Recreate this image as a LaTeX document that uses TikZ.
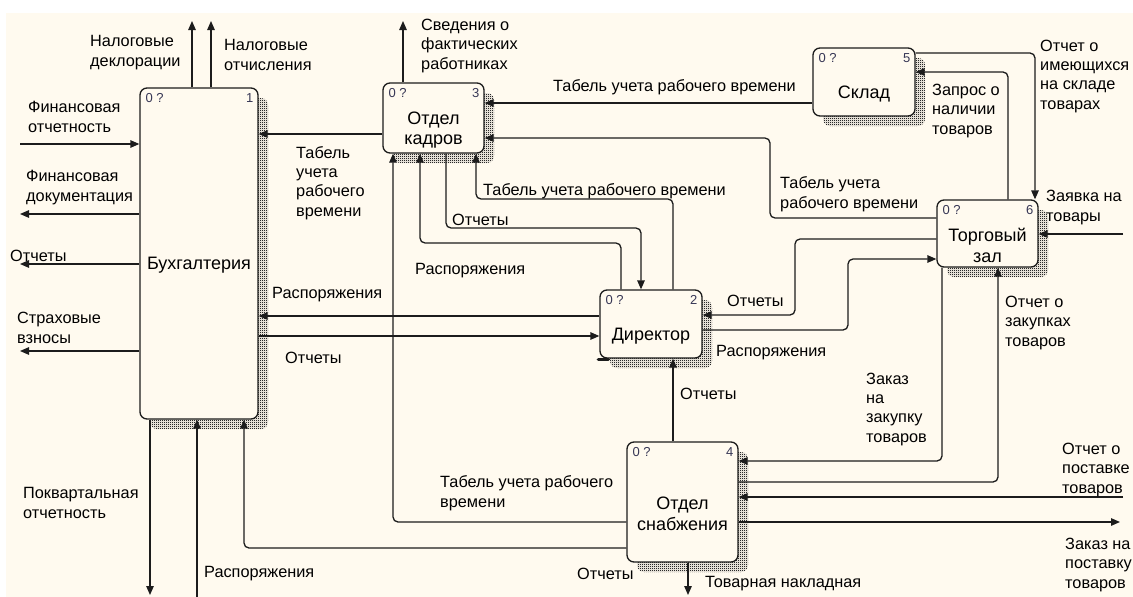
\documentclass[tikz,border=0pt]{standalone}
\usepackage{fontspec}
\setmainfont{Liberation Sans}
\usetikzlibrary{arrows.meta,patterns.meta,calc}

\definecolor{paper}{RGB}{255,250,239}
\definecolor{ink}{RGB}{28,28,28}
\definecolor{tagink}{RGB}{55,55,85}
\definecolor{hatch}{RGB}{40,40,40}

% fine chequer used for the box shadows
\pgfdeclarepattern{
  name=chequer,
  type=uncolored,
  bottom left={\pgfpoint{0pt}{0pt}},
  top right={\pgfpoint{2pt}{2pt}},
  tile size={\pgfpoint{2pt}{2pt}},
  code={%
    \pgfpathrectangle{\pgfpoint{0pt}{0pt}}{\pgfpoint{1.2pt}{1.2pt}}%
    \pgfpathrectangle{\pgfpoint{1pt}{1pt}}{\pgfpoint{1.2pt}{1.2pt}}%
    \pgfusepath{fill}%
  }
}

\tikzset{
  box/.style={draw=ink, line width=1.3pt, rounded corners=7pt, fill=paper, inner sep=0pt},
  boxshade/.style={pattern=chequer, pattern color=hatch, rounded corners=7pt},
  flow/.style={draw=ink, line width=1.3pt, rounded corners=5pt},
  arr/.style={flow, -{Triangle[length=9pt,width=7.5pt]}},
  % multi-line labels are placed by the baseline of their last line
  lbl/.style={anchor=base west, align=left, inner sep=0pt, font=\fontsize{16.3}{19.3}\selectfont},
  boxtitle/.style={align=center, inner sep=0pt, font=\fontsize{18}{20.5}\selectfont},
  boxtag/.style={inner sep=0pt, text=tagink, font=\fontsize{13}{14}\selectfont},
}

% IDEF0 activity box: name, left, top, right, bottom, title, number
\newcommand\idefbox[7]{%
  \pgfmathsetmacro\bxw{#4-#2}%
  \pgfmathsetmacro\bxh{#5-#3}%
  \fill[boxshade] (#2+10,#3+10) rectangle (#4+10,#5+10);
  \node[box, minimum width=\bxw pt, minimum height=\bxh pt] (#1) at ({(#2+#4)/2},{(#3+#5)/2}) {};
  \node[boxtitle] (#1-title) at ($(#1.center)+(0,12)$) {#6};
  \node[boxtag, anchor=west] (#1-tag) at ($(#1.north west)+(6,11)$) {0 ?};
  \node[boxtag, anchor=east] (#1-num) at ($(#1.north east)+(-5,11)$) {#7};
}

\begin{document}
\begin{tikzpicture}[x=1pt,y=-1pt]
\useasboundingbox (0,0) rectangle (1133,597);
\fill[white] (0,0) rectangle (1133,597);
\fill[paper] (6,13) rectangle (1133,597);

% activity boxes
\idefbox{buh}{140}{88}{258}{419}{Бухгалтерия}{1}
\idefbox{kadr}{383}{83}{484}{153}{Отдел\\кадров}{3}
\idefbox{dir}{600}{290}{702}{358}{Директор}{2}
\idefbox{snab}{627}{442}{738}{562}{Отдел\\снабжения}{4}
\idefbox{sklad}{813}{48}{915}{116}{Склад}{5}
\idefbox{torg}{937}{200}{1038}{267}{Торговый\\зал}{6}
\draw[ink, line width=3.5pt, line cap=round] ($(dir.south west)+(-1,1)$) -- ($(dir.south west)+(9,1)$);

% free ends of boundary arrows
\coordinate (taxdecl) at (192,21);
\coordinate (taxpay) at (211,21);
\coordinate (finrep) at (20,144);
\coordinate (findoc) at (20,214);
\coordinate (repout) at (20,264);
\coordinate (insur) at (20,351);
\coordinate (quart) at (150,595);
\coordinate (ordin) at (197,597);
\coordinate (staff) at (403,21);
\coordinate (goodsreq) at (1123,234);
\coordinate (supprep) at (1123,497);
\coordinate (supporder) at (1120,522);
\coordinate (invoice) at (688,595);

% boundary arrows
\draw[arr] (buh.north -| taxdecl) -- (taxdecl);
\draw[arr] (buh.north -| taxpay) -- (taxpay);
\draw[arr] (finrep) -- (buh.west |- finrep);
\draw[arr] (buh.west |- findoc) -- (findoc);
\draw[arr] (buh.west |- repout) -- (repout);
\draw[arr] (buh.west |- insur) -- (insur);
\draw[arr] (buh.south -| quart) -- (quart);
\draw[arr] (ordin) -- (buh.south -| ordin);
\draw[arr] (kadr.north -| staff) -- (staff);
\draw[arr] (goodsreq) -- (torg.east |- goodsreq);
\draw[arr] (supprep) -- (snab.east |- supprep);
\draw[arr] (snab.east |- supporder) -- (supporder);
\draw[arr] (snab.south -| invoice) -- (invoice);

% internal arrows
\draw[arr] (kadr.west |- 0,134) -- (buh.east |- 0,134);
\draw[arr] (dir.west |- 0,316) -- (buh.east |- 0,316);
\draw[arr] (buh.east |- 0,336) -- (dir.west |- 0,336);
\draw[arr] (sklad.west |- 0,103) -- (kadr.east |- 0,103);
\draw[arr] (torg.west |- 0,218) -- (770,218) -- (770,138) -- (kadr.east |- 0,138);
\draw[arr] (snab.west |- 0,522) -- (393,522) -- (kadr.south -| 393,0);
\draw[arr] (dir.north -| 621,0) -- (621,243) -- (420,243) -- (kadr.south -| 420,0);
\draw[arr] (kadr.south -| 446,0) -- (446,228) -- (641,228) -- (dir.north -| 641,0);
\draw[arr] (dir.north -| 673,0) -- (673,199) -- (476,199) -- (kadr.south -| 476,0);
\draw[arr] (torg.west |- 0,239) -- (795,239) -- (795,315) -- (dir.east |- 0,315);
\draw[arr] (dir.east |- 0,330) -- (848,330) -- (848,259) -- (torg.west |- 0,259);
\draw[arr] (snab.north -| 673,0) -- (dir.south -| 673,0);
\draw[arr] (sklad.east |- 0,53) -- (1035,53) -- (torg.north -| 1035,0);
\draw[arr] (torg.north -| 1008,0) -- (1008,72) -- (sklad.east |- 0,72);
\draw[arr] (torg.south -| 942,0) -- (942,461) -- (snab.east |- 0,461);
\draw[arr] (snab.east |- 0,482) -- (998,482) -- (torg.south -| 998,0);
\draw[arr] (snab.west |- 0,548) -- (244,548) -- (buh.south -| 244,0);

% arrow labels
\node[lbl] (l1) at (90,66) {Налоговые\\деклорации};
\node[lbl] (l2) at (224,70) {Налоговые\\отчисления};
\node[lbl] (l3) at (28,132) {Финансовая\\отчетность};
\node[lbl] (l4) at (26,201) {Финансовая\\документация};
\node[lbl] (l5) at (10,261) {Отчеты};
\node[lbl] (l6) at (17,343) {Страховые\\взносы};
\node[lbl] (l7) at (23,518) {Поквартальная\\отчетность};
\node[lbl] (l8) at (204,577) {Распоряжения};
\node[lbl] (l9) at (296,216) {Табель\\учета\\рабочего\\времени};
\node[lbl] (l10) at (272,298) {Распоряжения};
\node[lbl] (l11) at (285,363) {Отчеты};
\node[lbl] (l12) at (421,69) {Сведения о\\фактических\\работниках};
\node[lbl] (l13) at (553,91) {Табель учета рабочего времени};
\node[lbl] (l14) at (780,208) {Табель учета\\рабочего времени};
\node[lbl] (l15) at (440,507) {Табель учета рабочего\\времени};
\node[lbl] (l16) at (415,274) {Распоряжения};
\node[lbl] (l17) at (452,225) {Отчеты};
\node[lbl] (l18) at (483,195) {Табель учета рабочего времени};
\node[lbl] (l19) at (727,306) {Отчеты};
\node[lbl] (l20) at (716,356) {Распоряжения};
\node[lbl] (l21) at (680,399) {Отчеты};
\node[lbl] (l22) at (1040,109) {Отчет о\\имеющихся\\на складе\\товарах};
\node[lbl] (l23) at (932,134) {Запрос о\\наличии\\товаров};
\node[lbl] (l24) at (1046,221) {Заявка на\\товары};
\node[lbl] (l25) at (866,442) {Заказ\\на\\закупку\\товаров};
\node[lbl] (l26) at (1005,346) {Отчет о\\закупках\\товаров};
\node[lbl] (l27) at (1062,493) {Отчет о\\поставке\\товаров};
\node[lbl] (l28) at (1065,588) {Заказ на\\поставку\\товаров};
\node[lbl] (l29) at (577,579) {Отчеты};
\node[lbl] (l30) at (705,587) {Товарная накладная};
\end{tikzpicture}
\end{document}
